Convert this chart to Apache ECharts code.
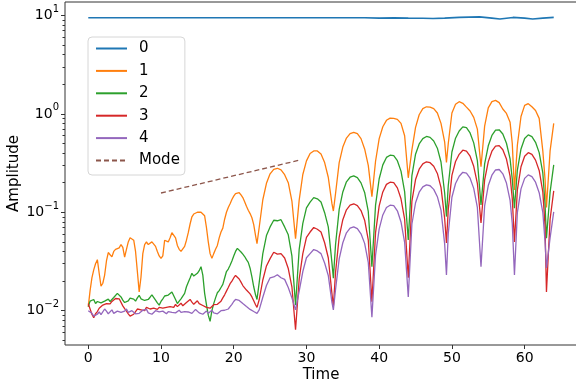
<!DOCTYPE html>
<html>
<head>
<meta charset="utf-8">
<script src="https://cdn.jsdelivr.net/npm/echarts@6.0.0/dist/echarts.min.js"></script>
<style>
  html, body { margin: 0; padding: 0; background: #fff; }
  #chart { width: 576px; height: 388px; }
</style>
</head>
<body>
<div id="chart"></div>
<script>
// Sampling times: dense early segment (noisy growth), then the oscillating segment
const timeEarly = [
  0, 0.25, 0.5, 0.75, 1, 1.25, 1.5, 1.75, 2, 2.25, 2.5, 2.75, 3, 3.25, 3.5, 3.75,
  4, 4.25, 4.5, 4.75, 5, 5.25, 5.5, 5.75, 6, 6.25, 6.5, 6.75, 7, 7.25, 7.5, 7.75,
  8, 8.25, 8.5, 8.75, 9, 9.25, 9.5, 9.75, 10, 10.25, 10.5, 10.75, 11, 11.25, 11.5, 11.75,
  12, 12.25, 12.5, 12.75, 13, 13.25, 13.5, 13.75, 14, 14.25, 14.5, 14.75, 15, 15.25, 15.5, 15.75,
  16, 16.25, 16.5, 16.75, 17, 17.25, 17.5, 17.75, 18, 18.25, 18.5, 18.75, 19, 19.25, 19.5, 19.75,
  20, 20.25, 20.5, 20.75, 21, 21.25, 21.5, 21.75, 22, 22.25, 22.5, 22.75, 23
];
const timeLate = [
  23.2, 23.5, 24, 24.5, 25, 25.5, 26, 26.5, 27, 27.5, 28, 28.5,
  29, 29.5, 30, 30.5, 31, 31.5, 32, 32.5, 33, 33.5, 33.7,
  34, 34.5, 35, 35.5, 36, 36.5, 37, 37.5, 38, 38.5, 39,
  39.5, 40, 40.5, 41, 41.5, 42, 42.5, 43, 43.5, 44,
  44.5, 45, 45.5, 46, 46.5, 47, 47.5, 48, 48.5, 49, 49.25,
  49.5, 50, 50.5, 51, 51.5, 52, 52.5, 53, 53.5, 54,
  54.5, 55, 55.5, 56, 56.5, 57, 57.5, 58, 58.3, 58.6,
  59, 59.5, 60, 60.5, 61, 61.5, 62, 62.5, 62.8, 63, 63.5, 64
];

// Mode 0 (nearly constant)
const time0 = [0, 10, 20, 30, 38, 40, 42, 44, 46, 47.4, 49, 51, 53.8, 55.5, 56.6, 58.4, 60, 61.1, 62.5, 64];
const amp0  = [9.47, 9.47, 9.47, 9.47, 9.47, 9.4, 9.45, 9.4, 9.36, 9.3, 9.4, 9.55, 9.68, 9.4, 9.22, 9.55, 9.4, 9.22, 9.4, 9.55];

// Mode 1
const amp1Early = [
  0.0110, 0.0160, 0.0215, 0.0260, 0.0300, 0.0330, 0.0240, 0.0178, 0.0190, 0.0230, 0.0320, 0.0390, 0.0370, 0.0352, 0.0400, 0.0420,
  0.0440, 0.0435, 0.0470, 0.0440, 0.0350, 0.0420, 0.0500, 0.0550, 0.0550, 0.0520, 0.0400, 0.0250, 0.0155, 0.0220, 0.0380, 0.0470,
  0.0500, 0.0470, 0.0460, 0.0500, 0.0490, 0.0450, 0.0400, 0.0360, 0.0340, 0.0360, 0.0520, 0.0530, 0.0500, 0.0550, 0.0620, 0.0630,
  0.0550, 0.0460, 0.0420, 0.0400, 0.0410, 0.0450, 0.0520, 0.0620, 0.0760, 0.0900, 0.0960, 0.0990, 0.1000, 0.1010, 0.1000, 0.0980,
  0.0920, 0.0700, 0.0500, 0.0380, 0.0340, 0.0380, 0.0420, 0.0460, 0.0550, 0.0630, 0.0690, 0.0850, 0.1000, 0.1120, 0.1220, 0.1350,
  0.1460, 0.1550, 0.1600, 0.1580, 0.1500, 0.1410, 0.1280, 0.1150, 0.1050, 0.0970, 0.0880, 0.0750, 0.0580
];
const amp1Late = [
  0.048, 0.070, 0.134, 0.197, 0.246, 0.273, 0.280, 0.270, 0.241, 0.200, 0.130, 0.054,
  0.133, 0.242, 0.333, 0.396, 0.420, 0.420, 0.390, 0.320, 0.227, 0.123, 0.103,
  0.155, 0.320, 0.460, 0.568, 0.630, 0.650, 0.630, 0.560, 0.440, 0.300, 0.144,
  0.330, 0.560, 0.740, 0.860, 0.905, 0.900, 0.880, 0.800, 0.600, 0.224,
  0.430, 0.730, 0.980, 1.130, 1.180, 1.170, 1.130, 1.020, 0.800, 0.520, 0.320,
  0.500, 1.020, 1.250, 1.330, 1.280, 1.170, 1.070, 0.920, 0.700, 0.290,
  0.750, 1.150, 1.330, 1.370, 1.300, 1.120, 1.010, 0.820, 0.500, 0.169,
  0.480, 0.940, 1.220, 1.270, 1.180, 1.080, 0.900, 0.420, 0.220, 0.112, 0.420, 0.800
];

// Mode 2
const amp2Early = [
  0.0110, 0.0125, 0.0120, 0.0130, 0.0118, 0.0124, 0.0128, 0.0120, 0.0115, 0.0125, 0.0122, 0.0131, 0.0124, 0.0128, 0.0136, 0.0142,
  0.0150, 0.0146, 0.0138, 0.0128, 0.0121, 0.0119, 0.0126, 0.0134, 0.0140, 0.0131, 0.0125, 0.0135, 0.0143, 0.0132, 0.0138, 0.0127,
  0.0122, 0.0130, 0.0137, 0.0145, 0.0140, 0.0128, 0.0120, 0.0114, 0.0124, 0.0132, 0.0141, 0.0138, 0.0144, 0.0150, 0.0155, 0.0148,
  0.0130, 0.0118, 0.0125, 0.0132, 0.0136, 0.0150, 0.0175, 0.0195, 0.0215, 0.0240, 0.0225, 0.0218, 0.0240, 0.0255, 0.0280, 0.0230,
  0.0150, 0.0115, 0.0090, 0.0078, 0.0100, 0.0118, 0.0135, 0.0152, 0.0160, 0.0172, 0.0185, 0.0215, 0.0250, 0.0265, 0.0290, 0.0320,
  0.0360, 0.0400, 0.0430, 0.0415, 0.0395, 0.0375, 0.0355, 0.0330, 0.0310, 0.0270, 0.0220, 0.0175, 0.0145
];
const amp2Late = [
  0.0130, 0.0193, 0.038, 0.058, 0.071, 0.083, 0.082, 0.084, 0.071, 0.059, 0.036, 0.0114,
  0.042, 0.077, 0.111, 0.127, 0.141, 0.137, 0.127, 0.099, 0.071, 0.031, 0.0214,
  0.047, 0.107, 0.161, 0.204, 0.227, 0.234, 0.225, 0.199, 0.159, 0.102, 0.0279,
  0.118, 0.219, 0.303, 0.361, 0.380, 0.376, 0.334, 0.262, 0.162, 0.0524,
  0.236, 0.389, 0.495, 0.560, 0.589, 0.577, 0.530, 0.448, 0.324, 0.158, 0.0904,
  0.187, 0.410, 0.566, 0.670, 0.738, 0.723, 0.640, 0.507, 0.335, 0.119,
  0.310, 0.474, 0.603, 0.682, 0.689, 0.625, 0.503, 0.348, 0.217, 0.110,
  0.268, 0.440, 0.563, 0.612, 0.588, 0.514, 0.404, 0.251, 0.123, 0.0545, 0.160, 0.303
];

// Mode 3
const amp3Early = [
  0.0118, 0.0104, 0.0092, 0.0085, 0.0093, 0.0098, 0.0106, 0.0110, 0.0114, 0.0112, 0.0118, 0.0120, 0.0117, 0.0124, 0.0128, 0.0133,
  0.0138, 0.0132, 0.0126, 0.0112, 0.0105, 0.0099, 0.0093, 0.0088, 0.0084, 0.0092, 0.0098, 0.0104, 0.0107, 0.0102, 0.0105, 0.0100,
  0.0108, 0.0110, 0.0104, 0.0100, 0.0106, 0.0109, 0.0103, 0.0108, 0.0111, 0.0106, 0.0103, 0.0108, 0.0104, 0.0110, 0.0113, 0.0108,
  0.0116, 0.0110, 0.0114, 0.0119, 0.0112, 0.0117, 0.0121, 0.0125, 0.0130, 0.0122, 0.0116, 0.0120, 0.0126, 0.0118, 0.0122, 0.0113,
  0.0117, 0.0108, 0.0112, 0.0106, 0.0111, 0.0115, 0.0110, 0.0116, 0.0120, 0.0125, 0.0135, 0.0145, 0.0158, 0.0172, 0.0188, 0.0200,
  0.0215, 0.0228, 0.0232, 0.0210, 0.0195, 0.0180, 0.0172, 0.0162, 0.0155, 0.0148, 0.0138, 0.0126, 0.0115
];
const amp3Late = [
  0.0108, 0.0129, 0.0205, 0.0285, 0.0338, 0.0392, 0.0375, 0.0380, 0.0343, 0.0268, 0.0175, 0.0064,
  0.021, 0.0380, 0.0555, 0.0630, 0.0700, 0.0672, 0.0630, 0.049, 0.0345, 0.015, 0.0109,
  0.0245, 0.056, 0.084, 0.106, 0.118, 0.122, 0.117, 0.104, 0.083, 0.0525, 0.0123,
  0.062, 0.116, 0.161, 0.192, 0.202, 0.200, 0.177, 0.137, 0.085, 0.0216,
  0.130, 0.215, 0.274, 0.310, 0.326, 0.319, 0.293, 0.248, 0.179, 0.087, 0.0489,
  0.107, 0.237, 0.328, 0.388, 0.427, 0.418, 0.371, 0.293, 0.197, 0.078,
  0.213, 0.327, 0.417, 0.471, 0.476, 0.432, 0.347, 0.233, 0.138, 0.050,
  0.169, 0.290, 0.371, 0.403, 0.387, 0.339, 0.266, 0.161, 0.074, 0.0155, 0.085, 0.165
];

// Mode 4
const amp4Early = [
  0.0100, 0.0097, 0.0094, 0.0088, 0.0086, 0.0092, 0.0097, 0.0091, 0.0094, 0.0104, 0.0099, 0.0093, 0.0097, 0.0102, 0.0094, 0.0090,
  0.0099, 0.0103, 0.0096, 0.0093, 0.0099, 0.0104, 0.0096, 0.0094, 0.0100, 0.0098, 0.0093, 0.0090, 0.0094, 0.0098, 0.0101, 0.0097,
  0.0103, 0.0095, 0.0097, 0.0092, 0.0096, 0.0100, 0.0102, 0.0097, 0.0094, 0.0099, 0.0097, 0.0093, 0.0098, 0.0101, 0.0096, 0.0100,
  0.0095, 0.0099, 0.0101, 0.0096, 0.0093, 0.0098, 0.0102, 0.0097, 0.0100, 0.0094, 0.0098, 0.0103, 0.0099, 0.0095, 0.0097, 0.0092,
  0.0096, 0.0099, 0.0094, 0.0097, 0.0101, 0.0095, 0.0098, 0.0093, 0.0097, 0.0100, 0.0096, 0.0101, 0.0099, 0.0104, 0.0110, 0.0116,
  0.0124, 0.0130, 0.0134, 0.0127, 0.0122, 0.0118, 0.0113, 0.0110, 0.0106, 0.0103, 0.0101, 0.0098, 0.0096
];
const amp4Late = [
  0.0094, 0.0102, 0.0137, 0.0180, 0.0216, 0.0220, 0.0232, 0.0216, 0.0208, 0.0172, 0.0135, 0.0102,
  0.0158, 0.0250, 0.0345, 0.0380, 0.0418, 0.0405, 0.0380, 0.0305, 0.0228, 0.0122, 0.0102,
  0.0164, 0.0336, 0.049, 0.0618, 0.0689, 0.071, 0.0682, 0.0604, 0.0483, 0.031, 0.0086,
  0.0367, 0.0678, 0.094, 0.112, 0.118, 0.117, 0.1035, 0.0797, 0.0495, 0.0138,
  0.076, 0.125, 0.160, 0.181, 0.190, 0.186, 0.171, 0.144, 0.105, 0.048, 0.0231,
  0.061, 0.142, 0.196, 0.232, 0.255, 0.250, 0.222, 0.175, 0.112, 0.0279,
  0.116, 0.187, 0.238, 0.269, 0.272, 0.246, 0.198, 0.132, 0.077, 0.0231,
  0.099, 0.173, 0.221, 0.240, 0.230, 0.202, 0.158, 0.100, 0.051, 0.0272, 0.055, 0.101
];

// Fitted growth of the unstable mode
const modeTime = [10, 29];
const modeAmp = [0.157, 0.338];

// Axis ticks
const xTicks = [0, 10, 20, 30, 40, 50, 60];
const yMajorTicks = [0.01, 0.1, 1, 10];
const yMinorTicks = [
  0.005, 0.006, 0.007, 0.008, 0.009,
  0.02, 0.03, 0.04, 0.05, 0.06, 0.07, 0.08, 0.09,
  0.2, 0.3, 0.4, 0.5, 0.6, 0.7, 0.8, 0.9,
  2, 3, 4, 5, 6, 7, 8, 9
];

const seriesNames = ['0', '1', '2', '3', '4'];
const colors = ['#1f77b4', '#ff7f0e', '#2ca02c', '#d62728', '#9467bd', '#8c564b'];

const time = timeEarly.concat(timeLate);
const zip = (t, v) => t.map((x, i) => [x, v[i]]);

const amps = [
  null,
  amp1Early.concat(amp1Late),
  amp2Early.concat(amp2Late),
  amp3Early.concat(amp3Late),
  amp4Early.concat(amp4Late)
];

const font = 'DejaVu Sans, Liberation Sans, sans-serif';
const axisColor = '#333';

function supLabel(v) {
  const e = Math.round(Math.log10(v));
  const s = e < 0 ? '\u2212' + (-e) : String(e);
  return '{b|10}{s|' + s + '}';
}

const lineSeries = seriesNames.map((name, i) => ({
  name: name,
  type: 'line',
  data: i === 0 ? zip(time0, amp0) : zip(time, amps[i]),
  symbol: 'none',
  lineStyle: { color: colors[i], width: i === 0 ? 1.6 : 1.3 },
  itemStyle: { color: colors[i] },
  z: 2 + i
}));

lineSeries.push({
  name: 'Mode',
  type: 'line',
  data: zip(modeTime, modeAmp),
  symbol: 'none',
  lineStyle: { color: colors[5], width: 1.3, type: [5, 3] },
  itemStyle: { color: colors[5] },
  z: 10
});

const chart = echarts.init(document.getElementById('chart'), null, { renderer: 'canvas' });
chart.setOption({
  animation: false,
  backgroundColor: '#fff',
  textStyle: { fontFamily: font },
  grid: {
    left: 65, top: 2, width: 512, height: 343,
    outerBoundsMode: 'none',
    containLabel: false,
    show: true, borderColor: axisColor, borderWidth: 1, backgroundColor: 'transparent'
  },
  legend: {
    orient: 'vertical',
    left: 88, top: 37,
    itemWidth: 31, itemHeight: 14, itemGap: 7.4,
    padding: [4, 5, 7, 7],
    backgroundColor: 'rgba(255,255,255,0.8)',
    borderColor: '#d6d6d6', borderWidth: 1, borderRadius: 4,
    itemStyle: { color: 'rgba(0,0,0,0)', borderWidth: 0, opacity: 0 },
    textStyle: { fontSize: 15, lineHeight: 14, color: '#000', fontFamily: font, padding: [0, 0, 0, 7] },
    data: seriesNames.concat(['Mode'])
  },
  xAxis: {
    type: 'value',
    min: -3.2, max: 67.2,
    name: 'Time', nameLocation: 'middle', nameGap: 23, nameMoveOverlap: false,
    nameTextStyle: { fontSize: 15, color: '#000', fontFamily: font },
    axisLine: { show: false, onZero: false },
    axisTick: { show: true, customValues: xTicks, length: 4, lineStyle: { color: axisColor } },
    axisLabel: { customValues: xTicks, fontSize: 14, color: '#000', margin: 6, fontFamily: font },
    splitLine: { show: false }
  },
  yAxis: [
    {
      type: 'log', logBase: 10,
      min: 0.00448, max: 13.7,
      name: 'Amplitude', nameLocation: 'middle', nameGap: 43, nameRotate: 90, nameMoveOverlap: false,
      nameTextStyle: { fontSize: 15, color: '#000', fontFamily: font },
      axisLine: { show: false, onZero: false },
      axisTick: { show: true, customValues: yMajorTicks, length: 4, lineStyle: { color: axisColor } },
      axisLabel: {
        customValues: yMajorTicks,
        margin: 6,
        formatter: supLabel,
        rich: {
          b: { fontSize: 14, color: '#000', fontFamily: font, lineHeight: 22, verticalAlign: 'middle' },
          s: { fontSize: 10, color: '#000', fontFamily: font, lineHeight: 12, verticalAlign: 'top' }
        }
      },
      splitLine: { show: false }
    },
    {
      type: 'log', logBase: 10,
      min: 0.00448, max: 13.7,
      position: 'left',
      axisLine: { show: false, onZero: false },
      axisTick: { show: true, customValues: yMinorTicks, length: 2.5, lineStyle: { color: axisColor } },
      axisLabel: { show: false },
      splitLine: { show: false }
    }
  ],
  series: lineSeries
});
</script>
</body>
</html>
